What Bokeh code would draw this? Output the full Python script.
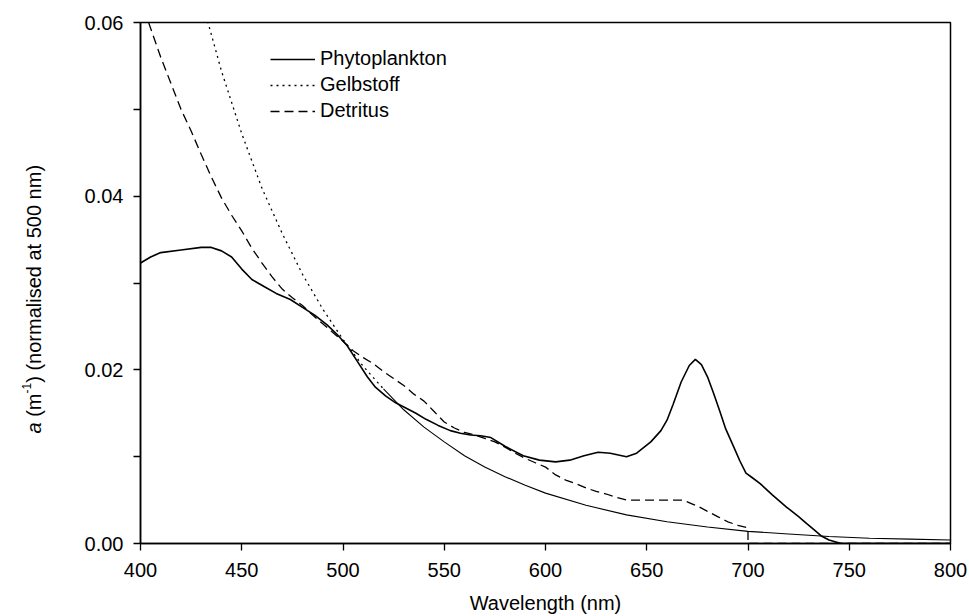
import math
from bokeh.plotting import figure
from bokeh.models import Range1d, FixedTicker, PrintfTickFormatter, Legend, LegendItem, Label
from bokeh.embed import file_html
from bokeh.resources import INLINE

# ---- data ----
wl_phyto = [400, 405, 410, 420, 430, 435, 440, 445, 450, 455, 461, 467, 474, 480, 486, 492, 497,
            502, 507, 512, 516, 521, 526, 531, 536, 541, 547, 553, 558, 563, 568, 573, 580, 589,
            597, 605, 612, 619, 626, 632, 640, 645, 652, 657, 660, 663, 667, 671, 674, 677, 680,
            683, 686, 689, 693, 696, 699, 702, 706, 712, 719, 725, 729, 733, 736, 740, 746, 800]
a_phyto = [0.0323, 0.0330, 0.0335, 0.0338, 0.0341, 0.0341, 0.0337, 0.0330, 0.0316, 0.0304, 0.0296,
           0.0288, 0.0281, 0.0272, 0.0263, 0.0252, 0.0241, 0.0228, 0.0210, 0.0192, 0.0180, 0.0170,
           0.0162, 0.0156, 0.0150, 0.0143, 0.0136, 0.0130, 0.0127, 0.0125, 0.0124, 0.0122, 0.0112,
           0.0101, 0.0096, 0.0094, 0.0096, 0.0101, 0.0105, 0.0104, 0.0100, 0.0104, 0.0117, 0.0130,
           0.0142, 0.0160, 0.0186, 0.0205, 0.0212, 0.0206, 0.0192, 0.0173, 0.0153, 0.0132, 0.0111,
           0.0095, 0.0081, 0.0076, 0.0069, 0.0056, 0.0042, 0.0031, 0.0023, 0.0015, 0.0009, 0.0004,
           0.0000, 0.0000]

wl_gelb = [430, 440, 450, 460, 470, 480, 490, 500, 510, 520, 530, 540, 550, 560, 570, 580, 590,
           600, 620, 640, 660, 680, 700, 720, 740, 760, 780, 800]
a_gelb = [0.0628, 0.0544, 0.0472, 0.0409, 0.0357, 0.0310, 0.0270, 0.0235, 0.0204, 0.0178, 0.0154,
          0.0134, 0.0117, 0.0101, 0.0088, 0.0077, 0.0067, 0.0058, 0.0044, 0.0033, 0.0025, 0.0019,
          0.0014, 0.0011, 0.0008, 0.0006, 0.0005, 0.0004]

wl_det = [404, 410, 415, 420, 425, 430, 435, 440, 445, 450, 455, 460, 465, 470, 475, 480, 485, 490,
          495, 500, 505, 510, 515, 520, 525, 530, 535, 540, 545, 550, 555, 560, 565, 570, 575, 580,
          585, 590, 595, 600, 605, 610, 615, 620, 625, 630, 635, 640, 668, 672, 676, 680, 685, 690,
          695, 700, 700, 800]
a_det = [0.0600, 0.0560, 0.0530, 0.0500, 0.0475, 0.0448, 0.0422, 0.0398, 0.0378, 0.0360, 0.0340,
         0.0323, 0.0307, 0.0293, 0.0283, 0.0274, 0.0263, 0.0253, 0.0243, 0.0233, 0.0222, 0.0214,
         0.0207, 0.0198, 0.0190, 0.0182, 0.0172, 0.0164, 0.0152, 0.0140, 0.0133, 0.0128, 0.0125,
         0.0121, 0.0117, 0.0111, 0.0104, 0.0098, 0.0093, 0.0088, 0.0079, 0.0073, 0.0069, 0.0064,
         0.0060, 0.0057, 0.0053, 0.0050, 0.0050, 0.0046, 0.0042, 0.0037, 0.0031, 0.0025, 0.0021,
         0.0018, 0.0000, 0.0000]

x_ticks = [400, 450, 500, 550, 600, 650, 700, 750, 800]
y_ticks = [0.00, 0.02, 0.04, 0.06]
y_minor = [0.01, 0.03, 0.05]
series_names = ["Phytoplankton", "Gelbstoff", "Detritus"]
x_title = "Wavelength (nm)"
y_title_parts = ["a", "(m", "-1", ") (normalised at 500 nm)"]

FONT = "Liberation Sans"

p = figure(width=969, height=616, output_backend="svg", toolbar_location=None,
           x_range=Range1d(400, 800), y_range=Range1d(0, 0.06),
           min_border_left=140, min_border_right=19, min_border_top=22, min_border_bottom=73)
p.grid.visible = False
p.background_fill_color = "white"
p.border_fill_color = "white"
p.outline_line_color = "black"
p.outline_line_width = 1.5

r_ph = p.line(wl_phyto, a_phyto, line_color="black", line_width=1.6)
k = wl_gelb.index(520)
r_ge = p.line(wl_gelb[:k + 1], a_gelb[:k + 1], line_color="black", line_width=1.3, line_dash="2 4")
p.line(wl_gelb[k:], a_gelb[k:], line_color="black", line_width=1.1)
r_de = p.line(wl_det, a_det, line_color="black", line_width=1.3, line_dash="9 5")

# axes
xa = p.xaxis[0]
xa.ticker = FixedTicker(ticks=x_ticks, minor_ticks=[])
ya = p.yaxis[0]
ya.ticker = FixedTicker(ticks=y_ticks, minor_ticks=y_minor)
ya.formatter = PrintfTickFormatter(format="%.2f")
for ax in (xa, ya):
    ax.axis_line_color = "black"
    ax.axis_line_width = 1.5
    ax.major_tick_line_color = "black"
    ax.major_tick_line_width = 1.3
    ax.minor_tick_line_color = "black"
    ax.minor_tick_line_width = 1.3
    ax.major_tick_out = 7
    ax.major_tick_in = 0
    ax.minor_tick_out = 7
    ax.minor_tick_in = 0
    ax.major_label_text_font = FONT
    ax.major_label_text_font_size = "20px"
    ax.major_label_text_color = "black"
ya.major_label_standoff = 10
xa.major_label_standoff = 12

# legend
legend = Legend(items=[LegendItem(label=series_names[0], renderers=[r_ph]),
                       LegendItem(label=series_names[1], renderers=[r_ge]),
                       LegendItem(label=series_names[2], renderers=[r_de])],
                location=(130, 421), padding=0, spacing=3, margin=0,
                glyph_width=45, glyph_height=20, label_standoff=5,
                label_text_font=FONT, label_text_font_size="20px", label_text_color="black",
                border_line_color=None, background_fill_alpha=0)
p.add_layout(legend)

# x-axis title (canvas units, in the bottom panel)
p.add_layout(Label(x=545, y=602, x_units="canvas", y_units="canvas", text=x_title,
                   text_font=FONT, text_font_size="20px", text_color="black",
                   text_align="center", text_baseline="middle"), "below")

# y-axis title composed of pieces (italic a, superscript -1), in the left panel
pieces = [(y_title_parts[0], 433.0, 33, "20px", "italic"),
          (y_title_parts[1], 416.3, 33, "20px", "normal"),
          (y_title_parts[2], 393.0, 26, "12px", "normal"),
          (y_title_parts[3], 382.3, 33, "20px", "normal")]
for txt, py, px, fs, st in pieces:
    p.add_layout(Label(x=px, y=py, x_units="canvas", y_units="canvas", text=txt, angle=math.pi / 2,
                       text_font=FONT, text_font_size=fs, text_font_style=st,
                       text_color="black", text_align="left", text_baseline="middle"), "left")

open("out.html", "w").write(file_html(p, INLINE))
